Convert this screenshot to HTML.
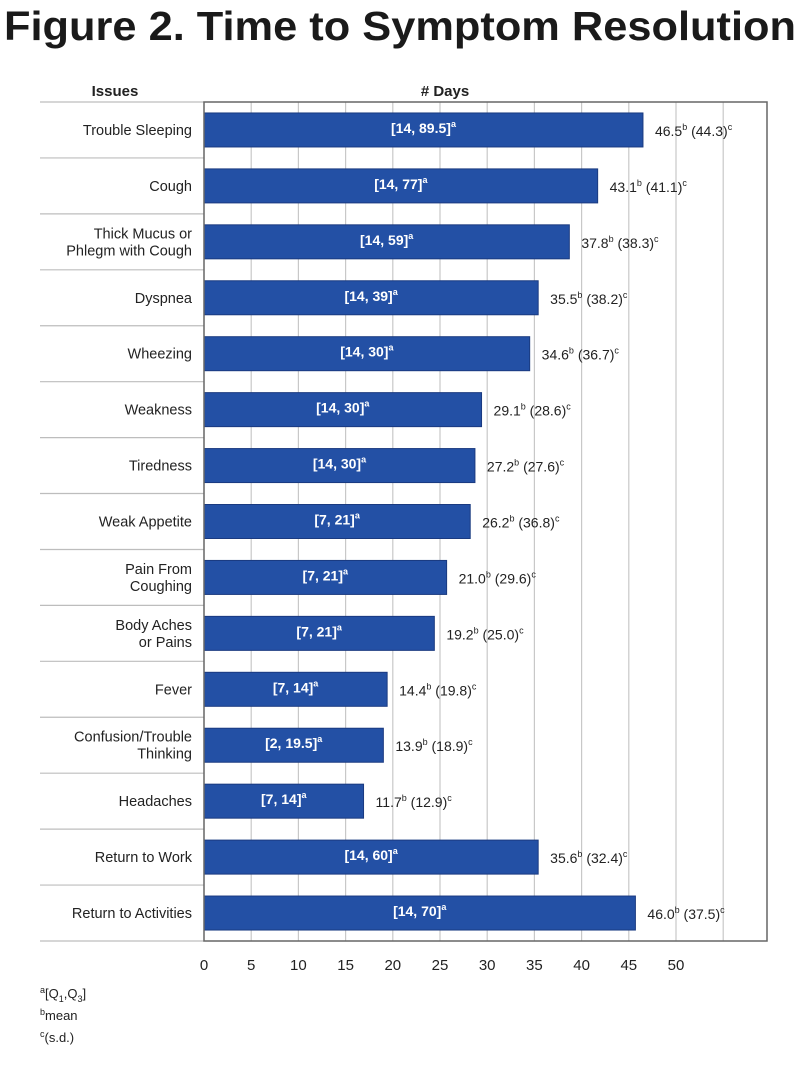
<!DOCTYPE html>
<html><head><meta charset="utf-8"><style>
body{margin:0;background:#fff;}
svg{display:block;font-family:"Liberation Sans",Arial,sans-serif;}
</style></head><body>
<svg id="c" width="800" height="1067">
<text x="400" y="40" text-anchor="middle" font-size="41" font-weight="bold" fill="#1a1a1a" textLength="792" lengthAdjust="spacingAndGlyphs">Figure 2. Time to Symptom Resolution</text>
<text x="115" y="96" text-anchor="middle" font-size="15" font-weight="bold" fill="#222">Issues</text>
<text x="445" y="96" text-anchor="middle" font-size="15" font-weight="bold" fill="#222"># Days</text>
<g id="plot"></g>
<text x="40" y="998" font-size="13" fill="#222"><tspan font-size="9" dy="-5">a</tspan><tspan dy="5">[Q</tspan><tspan font-size="9" dy="4">1</tspan><tspan dy="-4">,Q</tspan><tspan font-size="9" dy="4">3</tspan><tspan dy="-4">]</tspan></text>
<text x="40" y="1020" font-size="13" fill="#222"><tspan font-size="9" dy="-5">b</tspan><tspan dy="5">mean</tspan></text>
<text x="40" y="1042" font-size="13" fill="#222"><tspan font-size="9" dy="-5">c</tspan><tspan dy="5">(s.d.)</tspan></text>
</svg>
<script>
const categories=[["Trouble Sleeping"],["Cough"],["Thick Mucus or","Phlegm with Cough"],["Dyspnea"],["Wheezing"],["Weakness"],["Tiredness"],["Weak Appetite"],["Pain From","Coughing"],["Body Aches","or Pains"],["Fever"],["Confusion/Trouble","Thinking"],["Headaches"],["Return to Work"],["Return to Activities"]];
const means=[46.5,43.1,37.8,35.5,34.6,29.1,27.2,26.2,21.0,19.2,14.4,13.9,11.7,35.6,46.0];
const barLengths=[46.5,41.7,38.7,35.4,34.5,29.4,28.7,28.2,25.7,24.4,19.4,19.0,16.9,35.4,45.7];
const sds=[44.3,41.1,38.3,38.2,36.7,28.6,27.6,36.8,29.6,25.0,19.8,18.9,12.9,32.4,37.5];
const iqrs=["[14, 89.5]","[14, 77]","[14, 59]","[14, 39]","[14, 30]","[14, 30]","[14, 30]","[7, 21]","[7, 21]","[7, 21]","[7, 14]","[2, 19.5]","[7, 14]","[14, 60]","[14, 70]"];
const tickLabels=[0,5,10,15,20,25,30,35,40,45,50];
const gridVals=[5,10,15,20,25,30,35,40,45,50,55];
const NS="http://www.w3.org/2000/svg";
const X0=204,X1=767,Y0=102,Y1=941,U=9.44;
const rowH=(Y1-Y0)/categories.length;
const x=v=>X0+v*U;
const y=i=>Y0+i*rowH;
const g=document.getElementById('plot');
function mk(t,a){const e=document.createElementNS(NS,t);for(const k in a)e.setAttribute(k,a[k]);g.appendChild(e);return e;}
gridVals.forEach(v=>{const l=mk('line',{x1:x(v),x2:x(v),y1:Y0,y2:Y1,stroke:'#c8c8c8','stroke-width':1.2});

});
for(let i=0;i<=categories.length;i++){const l=mk('line',{x1:40,x2:X0,y1:y(i),y2:y(i),stroke:'#bdbdbd','stroke-width':1.2});

}
categories.forEach((c,i)=>{
const cy=y(i)+rowH/2;
const t=mk('text',{x:192,'text-anchor':'end','font-size':14.5,fill:'#222'});


c.forEach((s,j)=>{const ts=document.createElementNS(NS,'tspan');ts.setAttribute('x',192);ts.setAttribute('y',cy+5+(j-(c.length-1)/2)*17);ts.textContent=s;t.appendChild(ts);});
const xe=x(barLengths[i]);
const b=mk('rect',{x:X0,y:cy-17,width:xe-X0,height:34,fill:'#2350a5',stroke:'#1a3a80','stroke-width':1});


const bl=mk('text',{x:(X0+xe)/2,y:cy+3,'text-anchor':'middle','font-size':14,'font-weight':'bold',fill:'#fff'});


bl.innerHTML=iqrs[i]+'<tspan font-size="9" dy="-6">a</tspan>';
const vl=mk('text',{x:xe+12,y:cy+6,'font-size':14,fill:'#222'});


vl.innerHTML=means[i].toFixed(1)+'<tspan font-size="9" dy="-6">b</tspan><tspan dy="6"> ('+sds[i].toFixed(1)+')</tspan><tspan font-size="9" dy="-6">c</tspan>';
});
const fr=mk('rect',{x:X0,y:Y0,width:X1-X0,height:Y1-Y0,fill:'none',stroke:'#666','stroke-width':1.5});


tickLabels.forEach(v=>{const t=mk('text',{x:x(v),y:970,'text-anchor':'middle','font-size':15,fill:'#222'});


t.textContent=v;});
</script>
</body></html>
